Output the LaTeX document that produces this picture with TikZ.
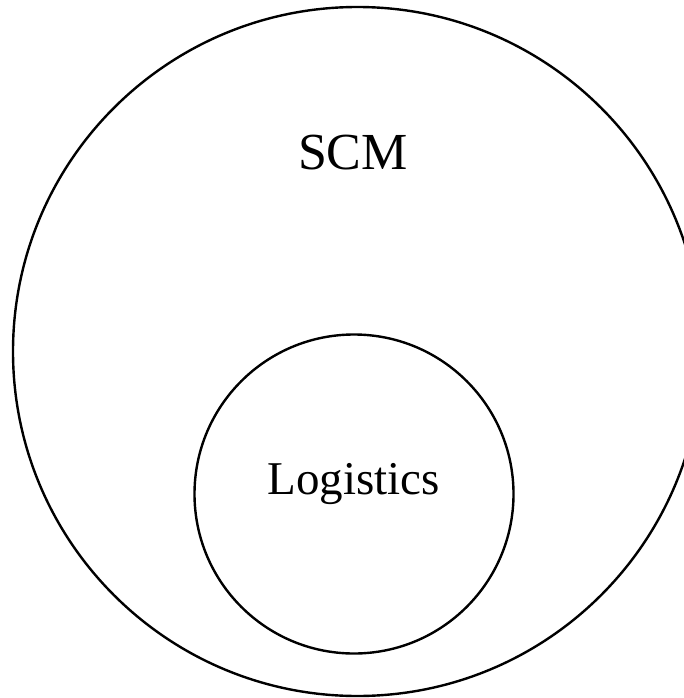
\documentclass[tikz,border=0pt]{standalone}
\usepackage{fontspec}
\setmainfont{Liberation Serif}
\begin{document}
\begin{tikzpicture}[x=1pt,y=-1pt,
  ring/.style={draw=black,line width=2.4pt,circle,inner sep=0pt},
  lbl/.style={anchor=base,inner sep=0pt}]
\useasboundingbox (0,0) rectangle (684,698);
\begin{scope}
\clip (0,0) rectangle (684,698);
\node[ring,minimum size=689pt] (scm) at (357.5,351.5) {};
\end{scope}
\node[ring,minimum size=319pt] (log) at (354,494) {};
\node[lbl,font=\fontsize{52}{60}\selectfont] (scmt) at (353,169) {SCM};
\node[lbl,font=\fontsize{47}{56}\selectfont] (logt) at (353.5,494) {Logistics};
\end{tikzpicture}
\end{document}
